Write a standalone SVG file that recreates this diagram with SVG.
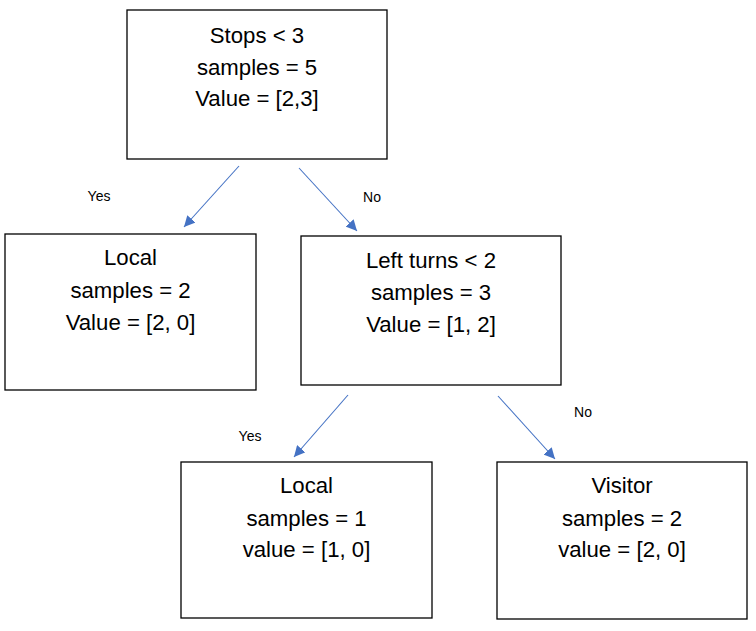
<svg xmlns="http://www.w3.org/2000/svg" width="756" height="631" viewBox="0 0 756 631">
<defs>
<style>
.box{fill:#fff;stroke:#000;stroke-width:1.3}
.t{font-family:"Liberation Sans",Arial,sans-serif;font-size:22.2px;fill:#000;text-anchor:middle}
.lbl{font-family:"Liberation Sans",Arial,sans-serif;font-size:14px;fill:#000;text-anchor:middle}
.edge{stroke:#4472C4;stroke-width:1.1;fill:none;marker-end:url(#arr)}
</style>
<marker id="arr" markerUnits="userSpaceOnUse" markerWidth="12" markerHeight="11" refX="11" refY="5.5" orient="auto">
<path d="M0,0 L11,5.5 L0,11 z" fill="#4472C4"/>
</marker>
</defs>
<rect width="756" height="631" fill="#fff"/>
<g id="connectors">
<line class="edge" x1="239" y1="166" x2="184" y2="227"/>
<line class="edge" x1="299" y1="168" x2="357" y2="231"/>
<line class="edge" x1="348" y1="395" x2="294" y2="457"/>
<line class="edge" x1="498" y1="396" x2="555" y2="459"/>
<text class="lbl" x="99" y="201">Yes</text>
<text class="lbl" x="372" y="202">No</text>
<text class="lbl" x="250" y="441">Yes</text>
<text class="lbl" x="583" y="417">No</text>
</g>
<g id="root">
<rect class="box" x="127" y="10" width="260" height="149"/>
<text class="t" x="257" y="43">Stops &lt; 3</text>
<text class="t" x="257" y="75">samples = 5</text>
<text class="t" x="257" y="106">Value = [2,3]</text>
</g>
<g id="local1">
<rect class="box" x="5" y="234" width="251" height="156"/>
<text class="t" x="130.5" y="265">Local</text>
<text class="t" x="130.5" y="298">samples = 2</text>
<text class="t" x="130.5" y="330">Value = [2, 0]</text>
</g>
<g id="leftturns">
<rect class="box" x="301" y="236" width="260" height="149"/>
<text class="t" x="431" y="268">Left turns &lt; 2</text>
<text class="t" x="431" y="300">samples = 3</text>
<text class="t" x="431" y="332">Value = [1, 2]</text>
</g>
<g id="local2">
<rect class="box" x="181" y="462" width="251" height="156"/>
<text class="t" x="306.5" y="493">Local</text>
<text class="t" x="306.5" y="526">samples = 1</text>
<text class="t" x="306.5" y="557">value = [1, 0]</text>
</g>
<g id="visitor">
<rect class="box" x="497" y="462" width="250" height="157"/>
<text class="t" x="622" y="493">Visitor</text>
<text class="t" x="622" y="526">samples = 2</text>
<text class="t" x="622" y="557">value = [2, 0]</text>
</g>
</svg>
